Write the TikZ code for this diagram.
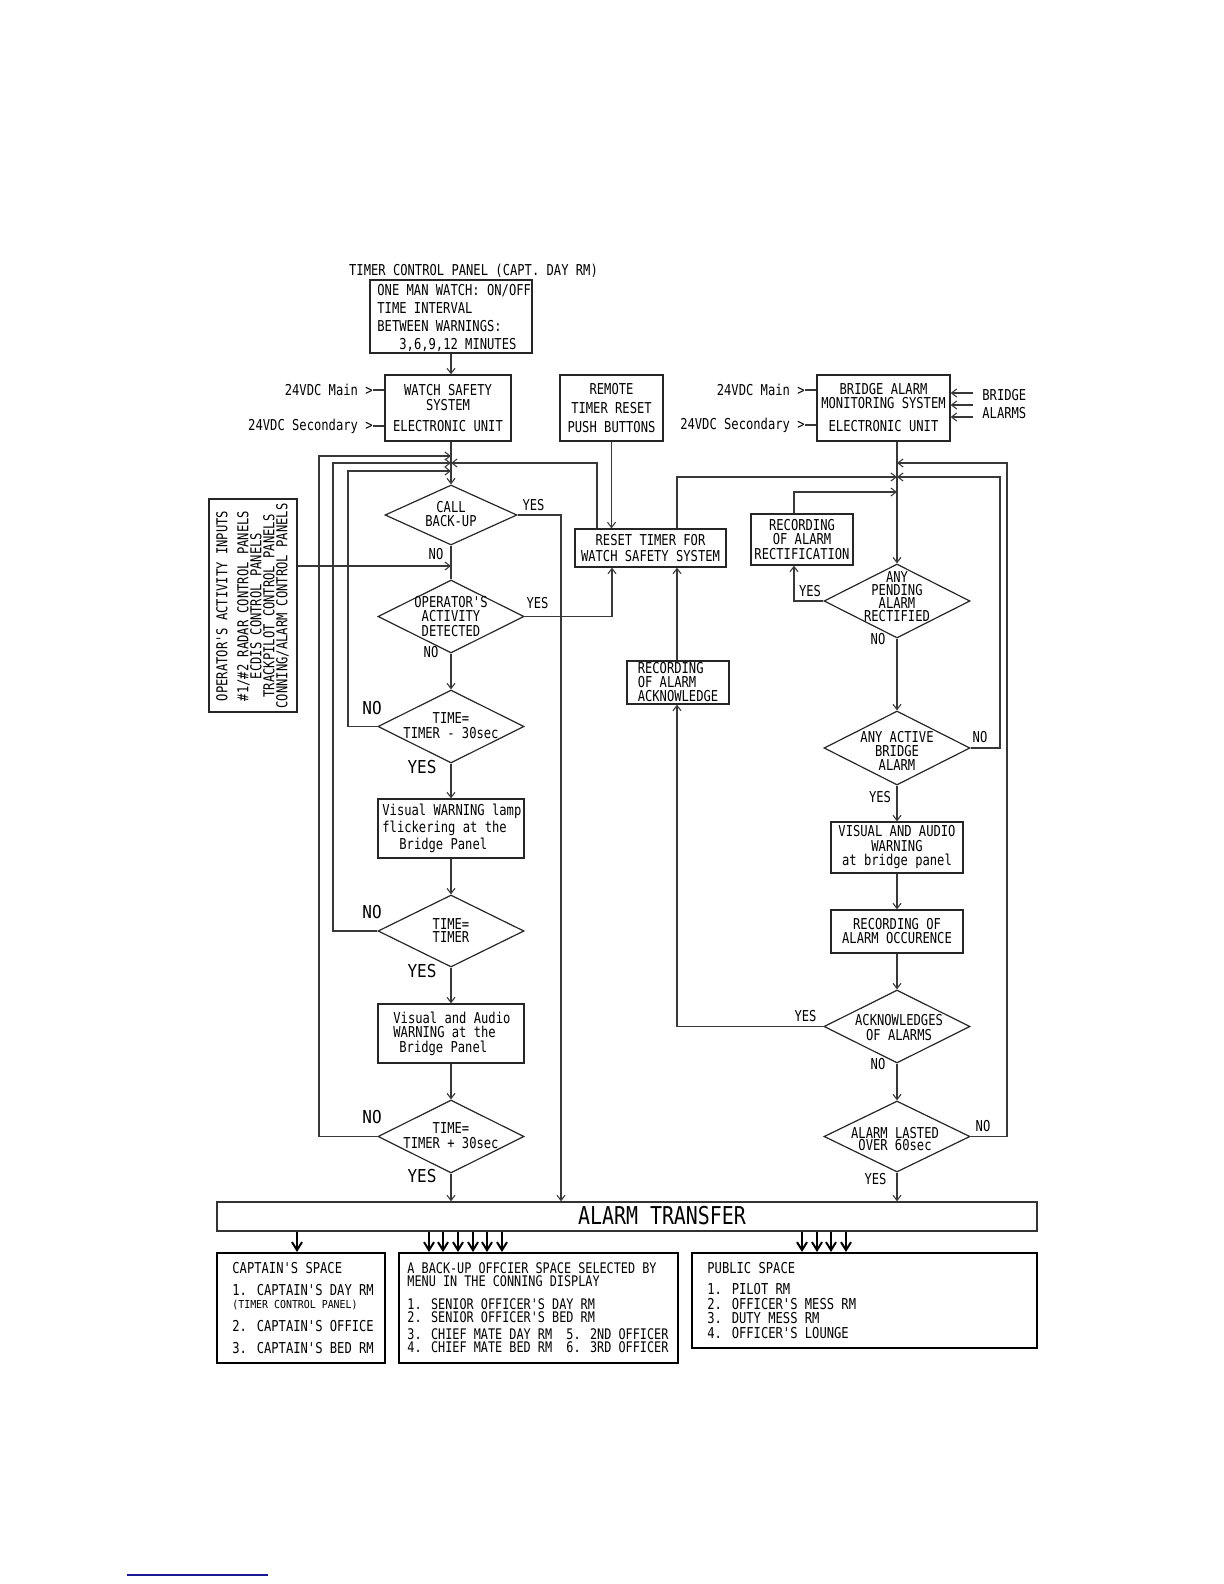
\documentclass[tikz,border=0pt]{standalone}
\usepackage{fontspec}
\newfontfamily\gf[FakeStretch=0.81]{DejaVu Sans Mono}
\newfontfamily\gfw[FakeStretch=0.9]{DejaVu Sans Mono}
\usetikzlibrary{arrows.meta,shapes.geometric}
\definecolor{linkblue}{RGB}{25,25,150}
\colorlet{lc}{black!78}
\tikzset{
  ln/.style={line width=0.55pt,lc},
  arr/.style={line width=0.55pt,lc,-{Straight Barb[length=2.6pt,width=4pt]}},
  barr/.style={line width=1pt,-{Straight Barb[length=4pt,width=5pt]}},
  box/.style={draw=black!85,rectangle,line width=0.65pt},
  bbox/.style={draw,rectangle,line width=1pt,inner sep=0pt},
  dec/.style={draw=black!85,diamond,line width=0.6pt,inner sep=0pt},
  t/.style={inner sep=0pt,align=center,font=\gf\fontsize{7.5}{#1}\selectfont},
  t/.default=7.5,
  tl/.style={inner sep=0pt,align=left,anchor=west,font=\gf\fontsize{7.5}{#1}\selectfont},
  tl/.default=7.5,
  bl/.style={inner sep=0pt,font=\gfw\fontsize{8.9}{9}\selectfont},
  sm/.style={inner sep=0pt,anchor=west,font=\gfw\fontsize{5.5}{6}\selectfont},
}
\begin{document}
\begin{tikzpicture}[x=0.5pt,y=-0.5pt]
\useasboundingbox (0,0) rectangle (1224,1584);

% ---------- left column ----------
\node[t] (tcpt) at (473.5,271) {TIMER CONTROL PANEL (CAPT. DAY RM)};
\node[box,minimum width=81pt,minimum height=36.5pt,inner sep=0pt] (tcp) at (451,316.5) {};
\node[tl=9] (tcpx) at (377,318) {ONE MAN WATCH: ON/OFF\\TIME INTERVAL\\BETWEEN WARNINGS:\\\hspace*{11pt}3,6,9,12 MINUTES};

\node[box,t,minimum width=63pt,minimum height=33pt] (wss) at (448,408) {WATCH SAFETY\\SYSTEM\\[3pt]ELECTRONIC UNIT};
\node[t,anchor=east] (p1) at (373,390) {24VDC Main >};
\node[t,anchor=east] (p2) at (373,426) {24VDC Secondary >};

\node[box,t=9.5,minimum width=51.5pt,minimum height=33pt] (rem) at (611.5,408) {REMOTE\\TIMER RESET\\PUSH BUTTONS};
\node[box,t=8,minimum width=75.5pt,minimum height=19pt] (rst) at (650.5,548) {RESET TIMER FOR\\WATCH SAFETY SYSTEM};

\node[box,minimum width=44pt,minimum height=106.5pt,inner sep=0pt] (opin) at (253,605.5) {};
\node[t=6.5,rotate=90] (opinx) at (252.5,606) {OPERATOR'S ACTIVITY INPUTS\\[4pt]\#1/\#2 RADAR CONTROL PANELS\\ECDIS CONTROL PANELS\\TRACKPILOT CONTROL PANELS\\CONNING/ALARM CONTROL PANELS};

\node[dec,minimum width=66pt,minimum height=30pt] (cb) at (451,515) {};
\node[t=7] (cbx) at (451,514) {CALL\\BACK-UP};
\node[dec,minimum width=73pt,minimum height=36.5pt] (opd) at (451,616.5) {};
\node[t=7.25] (opdx) at (451,616.5) {OPERATOR'S\\ACTIVITY\\DETECTED};
\node[dec,minimum width=73pt,minimum height=36.5pt] (t1) at (451,726.5) {};
\node[t=7.5] (t1x) at (451,725.5) {TIME=\\TIMER - 30sec};
\node[box,minimum width=73pt,minimum height=29.5pt,inner sep=0pt] (vw) at (451,828.5) {};
\node[tl=7.25] (vwx) at (382,828.5) {Visual WARNING lamp\\flickering at the\\\hspace*{8.5pt}Bridge Panel};
\node[dec,minimum width=73pt,minimum height=36pt] (t2) at (451,931) {};
\node[t=6.5] (t2x) at (451,930.5) {TIME=\\TIMER};
\node[box,minimum width=73pt,minimum height=29.5pt,inner sep=0pt] (va) at (451,1033.5) {};
\node[tl=7.25] (vax) at (393,1033.5) {Visual and Audio\\WARNING at the\\\hspace*{3pt}Bridge Panel};
\node[dec,minimum width=73pt,minimum height=36.5pt] (t3) at (451,1136.5) {};
\node[t=7.5] (t3x) at (451,1135.5) {TIME=\\TIMER + 30sec};

% labels left
\node[t] (cbY) at (533.5,505) {YES};
\node[t] (cbN) at (436,554) {NO};
\node[t] (opY) at (537.5,603) {YES};
\node[t] (opN) at (431,652) {NO};
\node[bl] (t1N) at (372,708) {NO};
\node[bl] (t1Y) at (422,767) {YES};
\node[bl] (t2N) at (372,912) {NO};
\node[bl] (t2Y) at (422,971) {YES};
\node[bl] (t3N) at (372,1117) {NO};
\node[bl] (t3Y) at (422,1176) {YES};

% ---------- right column ----------
\node[box,t=7,minimum width=66.5pt,minimum height=33pt] (bams) at (883.5,408) {BRIDGE ALARM\\MONITORING SYSTEM\\[4.5pt]ELECTRONIC UNIT};
\node[t,anchor=east] (p3) at (805,390) {24VDC Main >};
\node[t,anchor=east] (p4) at (805,425) {24VDC Secondary >};
\node[tl=9] (bal) at (982,404) {BRIDGE\\ALARMS};
\coordinate (ba1) at (973,393);
\coordinate (ba2) at (973,405);
\coordinate (ba3) at (973,417);

\node[box,t=7.25,minimum width=51pt,minimum height=25.5pt] (rect) at (802,539.5) {RECORDING\\OF ALARM\\RECTIFICATION};
\node[box,t=7,align=left,minimum width=51pt,minimum height=21.5pt] (rack) at (678,682.5) {RECORDING\\OF ALARM\\ACKNOWLEDGE};

\node[dec,minimum width=73pt,minimum height=37pt] (pd) at (897,601) {};
\node[t=6.5] (pdx) at (897,596.5) {ANY\\PENDING\\ALARM\\RECTIFIED};
\node[dec,minimum width=73pt,minimum height=37pt] (ac) at (897,748) {};
\node[t=7] (acx) at (897,751) {ANY ACTIVE\\BRIDGE\\ALARM};
\node[box,t=7.25,minimum width=66pt,minimum height=25.5pt] (vab) at (897,847.5) {VISUAL AND AUDIO\\WARNING\\at bridge panel};
\node[box,t=7,minimum width=66pt,minimum height=21.5pt] (rocc) at (897,931.5) {RECORDING OF\\ALARM OCCURENCE};
\node[dec,minimum width=73pt,minimum height=36.5pt] (ak) at (897,1026.5) {};
\node[t=7.5] (akx) at (899,1027.5) {ACKNOWLEDGES\\OF ALARMS};
\node[dec,minimum width=73pt,minimum height=35.5pt] (al) at (897,1136.5) {};
\node[t=6] (alx) at (895,1139) {ALARM LASTED\\OVER 60sec};

% labels right
\node[t] (pdY) at (810,591) {YES};
\node[t] (pdN) at (878,639) {NO};
\node[t] (acN) at (980,737) {NO};
\node[t] (acY) at (880,797) {YES};
\node[t] (akY) at (805.5,1016) {YES};
\node[t] (akN) at (878,1064) {NO};
\node[t] (alN) at (983,1126) {NO};
\node[t] (alY) at (875.5,1179) {YES};

% ---------- alarm transfer and spaces ----------
\node[draw=black!80,line width=0.7pt,inner sep=0pt,minimum width=410pt,minimum height=14.5pt] (at) at (627,1216.5) {};
\node[inner sep=0pt,font=\gf\fontsize{12.3}{13}\selectfont] (atx) at (662,1216) {ALARM TRANSFER};

\node[bbox,minimum width=84pt,minimum height=55pt] (cap) at (301,1308) {};
\node[tl] (capa) at (232,1268) {CAPTAIN'S SPACE};
\node[tl] (capb) at (232,1290) {1. CAPTAIN'S DAY RM};
\node[sm] (capc) at (232,1305) {(TIMER CONTROL PANEL)};
\node[tl] (capd) at (232,1326) {2. CAPTAIN'S OFFICE};
\node[tl] (cape) at (232,1348) {3. CAPTAIN'S BED RM};

\node[bbox,minimum width=139.5pt,minimum height=55pt] (bk) at (538.5,1308) {};
\node[tl=6.5,font=\gf\fontsize{7.3}{6.5}\selectfont] (bka) at (407,1274.5) {A BACK-UP OFFCIER SPACE SELECTED BY\\MENU IN THE CONNING DISPLAY};
\node[tl=6.5,font=\gf\fontsize{7.3}{6.5}\selectfont] (bkb) at (407,1310.5) {1. SENIOR OFFICER'S DAY RM\\2. SENIOR OFFICER'S BED RM};
\node[tl=6.5,font=\gf\fontsize{7.3}{6.5}\selectfont] (bkc) at (407,1340.5) {3. CHIEF MATE DAY RM~~5. 2ND OFFICER\\4. CHIEF MATE BED RM~~6. 3RD OFFICER};

\node[bbox,minimum width=172.5pt,minimum height=47.5pt] (pub) at (864.5,1300.5) {};
\node[tl] (puba) at (707,1268) {PUBLIC SPACE};
\node[tl=7.33] (pubb) at (707,1311) {1. PILOT RM\\2. OFFICER'S MESS RM\\3. DUTY MESS RM\\4. OFFICER'S LOUNGE};

% ---------- connectors left ----------
\draw[arr] (tcp.south) -- (tcp.south |- wss.north);
\draw[ln] (p1.east) -- (p1.east -| wss.west);
\draw[ln] (p2.east) -- (p2.east -| wss.west);
\draw[arr] (wss.south -| cb.north) -- (cb.north);
\draw[arr] (t3.west) -| (319,456) -- (cb.north |- 0,456);
\draw[arr] (t2.west) -| (333,463) -- (cb.north |- 0,463);
\draw[arr] (t1.west) -| (348,471) -- (cb.north |- 0,471);
\draw[arr] (rst.north -| 597,0) |- (cb.north |- 0,463);
\draw[ln] (cb.south) -- (opd.north);
\draw[arr] (opin.east |- 0,566) -- (cb.south |- 0,566);
\draw[arr] (cb.east) -| (at.north -| 561,0);
\draw[arr] (opd.east) -| (rst.south -| 612,0);
\draw[arr] (rem.south) -- (rem.south |- rst.north);
\draw[arr] (opd.south) -- (t1.north);
\draw[arr] (t1.south) -- (vw.north);
\draw[arr] (vw.south) -- (t2.north);
\draw[arr] (t2.south) -- (va.north);
\draw[arr] (va.south) -- (t3.north);
\draw[arr] (t3.south) -- (t3.south |- at.north);

% ---------- connectors right ----------
\draw[ln] (p3.east) -- (p3.east -| bams.west);
\draw[ln] (p4.east) -- (p4.east -| bams.west);
\draw[arr] (ba1) -- (ba1 -| bams.east);
\draw[arr] (ba2) -- (ba2 -| bams.east);
\draw[arr] (ba3) -- (ba3 -| bams.east);
\draw[arr] (pd.north |- bams.south) -- (pd.north);
\draw[arr] (al.east) -| (1007,463) -- (pd.north |- 0,463);
\draw[arr] (ac.east) -| (1000,477) -- (pd.north |- 0,477);
\draw[arr] (rst.north -| 677,0) |- (pd.north |- 0,477);
\draw[arr] (rect.north -| 794,0) |- (pd.north |- 0,492);
\draw[arr] (pd.west) -| (rect.south -| 794,0);
\draw[arr] (pd.south) -- (ac.north);
\draw[arr] (ac.south) -- (vab.north);
\draw[arr] (vab.south) -- (rocc.north);
\draw[arr] (rocc.south) -- (ak.north);
\draw[arr] (ak.west) -| (rack.south -| 677,0);
\draw[arr] (rack.north -| 677,0) -- (rst.south -| 677,0);
\draw[arr] (ak.south) -- (al.north);
\draw[arr] (al.south) -- (al.south |- at.north);

% ---------- transfer arrows ----------
\draw[barr] (at.south -| 297,0) -- (cap.north -| 297,0);
\foreach \xx in {429,443,458,473,487,502}
  \draw[barr] (at.south -| \xx,0) -- (bk.north -| \xx,0);
\foreach \xx in {802,817,831,846}
  \draw[barr] (at.south -| \xx,0) -- (pub.north -| \xx,0);

% link underline
\draw[linkblue,line width=0.8pt] (127,1575) -- (268,1575);
\end{tikzpicture}
\end{document}
